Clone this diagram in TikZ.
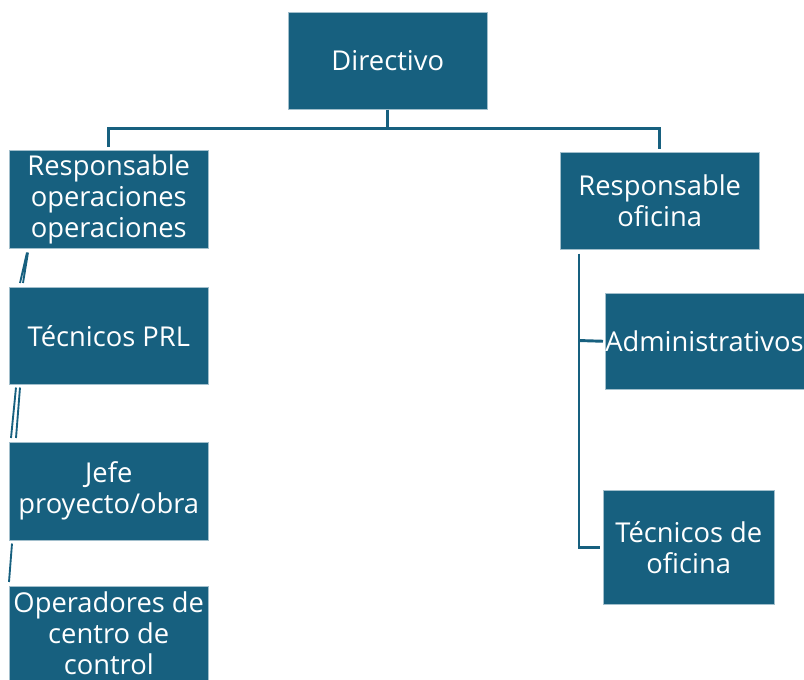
\documentclass[tikz,border=0pt]{standalone}
\usepackage{fontspec}
\setmainfont{Open Sans}
\usetikzlibrary{calc}
\definecolor{azul}{HTML}{17607F}
\tikzset{
  caja/.style={rectangle,fill=azul,draw=azul!40!white,line width=.4pt,text=white,
    align=center,anchor=north west,inner sep=0pt,
    font=\fontsize{20.5}{23.25}\selectfont},
  linea/.style={draw=azul,line width=2.2pt}
}
\begin{document}
\begin{tikzpicture}[x=.75pt,y=-.75pt]
  \useasboundingbox (0,0) rectangle (804,680);
  \clip (0,0) rectangle (804,680);
  % cajas
  \node[caja,minimum width=149.25pt,minimum height=72.75pt] (dir) at (288,12) {Directivo};
  \node[caja,minimum width=149.25pt,minimum height=73.5pt] (resop) at (9,150) {Responsable\\operaciones\\operaciones};
  \node[caja,minimum width=149.25pt,minimum height=72.75pt] (resof) at (560,152) {Responsable\\oficina};
  \node[caja,minimum width=149.25pt,minimum height=72.75pt] (prl) at (9,287) {Técnicos PRL};
  \node[caja,minimum width=149.25pt,minimum height=73.5pt] (jefe) at (9,442) {Jefe\\proyecto/obra};
  \node[caja,minimum width=149.25pt,minimum height=70.5pt] (oper) at (9,586) {Operadores de\\centro de\\control};
  \node[caja,minimum width=149.25pt,minimum height=72pt] (adm) at (605,293) {Administrativos\hspace*{2pt}};
  \node[caja,minimum width=128.25pt,minimum height=85.5pt] (tecof) at (603,490) {Técnicos de\\oficina};
  % lineas
  \draw[linea] (dir.south) -- ++(0,19) -| ($(resop.north)+(0,-3)$);
  \draw[linea] ($(dir.south)+(0,19)$) -| ($(resof.north)+(0,-3)$);
  \draw[linea] ($(resof.south west)+(19,4)$) |- ($(tecof.west)+(-3,0)$);
  \draw[linea] ($(resof.south west)+(19,91)$) -- ($(adm.west)+(-2,0)$);
  \draw[azul,line width=1.4pt] ($(resop.south west)+(18,4)$) -- ($(prl.north west)+(11,-4)$)
    ($(resop.south west)+(19,4)$) -- ($(prl.north west)+(14,-4)$);
  \draw[azul,line width=1.4pt] ($(prl.south west)+(7,3)$) -- ($(jefe.north west)+(2,-4)$)
    ($(prl.south west)+(11,3)$) -- ($(jefe.north west)+(7,-4)$);
  \draw[azul,line width=1.4pt] ($(jefe.south west)+(3,3)$) -- ($(oper.north west)+(0,-4)$);
\end{tikzpicture}
\end{document}
